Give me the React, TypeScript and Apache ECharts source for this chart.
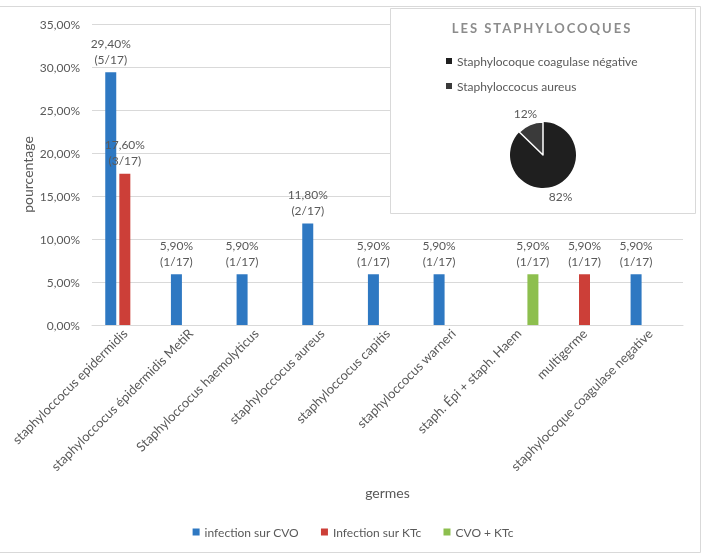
import React, { useEffect, useRef } from "react";
import * as echarts from "echarts";

const categories = [
  "staphyloccocus epidermidis",
  "staphyloccocus épidermidis MetiR",
  "Staphyloccocus haemolyticus",
  "staphyloccocus aureus",
  "staphyloccocus capitis",
  "staphyloccocus warneri",
  "staph. Épi + staph. Haem",
  "multigerme",
  "staphylocoque coagulase negative",
];
const seriesNames = ["infection sur CVO", "Infection sur KTc", "CVO + KTc"];
const cvoValues = [29.4, 5.9, 5.9, 11.8, 5.9, 5.9, null, null, 5.9];
const ktcValues = [17.6, null, null, null, null, null, null, 5.9, null];
const bothValues = [null, null, null, null, null, null, 5.9, null, null];
const cvoCounts = [5, 1, 1, 2, 1, 1, null, null, 1];
const ktcCounts = [3, null, null, null, null, null, null, 1, null];
const bothCounts = [null, null, null, null, null, null, 1, null, null];
const total = 17;
const yTicks = [0, 5, 10, 15, 20, 25, 30, 35];

const pieNames = ["Staphylocoque coagulase négative", "Staphyloccocus aureus"];
const pieValues = [82, 12];

const colors = ["#2E78C2", "#CC3F38", "#8DBF4E"];
const TEXT = "#595959";
const FONT = "Lato";

function fmtPct(v: number) {
  return v.toFixed(2).replace(".", ",") + "%";
}

export default function App() {
  const ref = useRef<HTMLDivElement>(null);
  useEffect(() => {
    if (!ref.current) return;
    const chart = echarts.init(ref.current, null, { renderer: "svg" });
    const counts = [cvoCounts, ktcCounts, bothCounts];
    const values = [cvoValues, ktcValues, bothValues];
    const barSeries = values.map((vals, si) => ({
      name: seriesNames[si],
      type: "bar",
      data: vals,
      barWidth: 11,
      barGap: "28%",
      itemStyle: { color: colors[si] },
      z: 3,
      label: {
        show: true,
        position: "top",
        distance: 5,
        color: TEXT,
        fontSize: 12,
        fontFamily: FONT,
        lineHeight: 16,
        formatter: (p: any) =>
          p.value == null ? "" : fmtPct(p.value) + "\n(" + counts[si][p.dataIndex] + "/" + total + ")",
      },
    }));

    const pieCenter = [543, 155];
    const pieRadius = 33;
    const pieLabelR = 45;
    const pieSum = pieValues.reduce((a, b) => a + b, 0);
    const midAngles: number[] = [];
    let acc = 0;
    pieValues.forEach((v) => {
      midAngles.push(((acc + v / 2) / pieSum) * 2 * Math.PI);
      acc += v;
    });

    chart.setOption({
      animation: false,
      textStyle: { fontFamily: FONT },
      grid: { left: 92, right: 23, top: 24, bottom: 229, containLabel: false },
      legend: [
        {
          data: seriesNames,
          bottom: 11,
          left: "center",
          icon: "rect",
          itemWidth: 7,
          itemHeight: 7,
          itemGap: 22,
          textStyle: { color: TEXT, fontSize: 12, fontFamily: FONT },
        },
        {
          data: pieNames,
          orient: "vertical",
          left: 441,
          top: 50,
          icon: "rect",
          itemWidth: 6,
          itemHeight: 6,
          itemGap: 13,
          z: 10,
          itemStyle: { borderWidth: 0 },
          textStyle: { color: TEXT, fontSize: 12, fontFamily: FONT },
          selectedMode: false,
        },
      ],
      xAxis: {
        type: "category",
        data: categories,
        name: "germes",
        nameLocation: "middle",
        nameGap: 160,
        nameMoveOverlap: false,
        nameTextStyle: { color: TEXT, fontSize: 14, fontFamily: FONT },
        axisLine: { lineStyle: { color: "#d9d9d9" } },
        axisTick: { show: false },
        axisLabel: { rotate: 45, interval: 0, color: TEXT, fontSize: 13, fontFamily: FONT, margin: 6 },
      },
      yAxis: {
        type: "value",
        min: yTicks[0],
        max: yTicks[yTicks.length - 1],
        interval: 5,
        name: "pourcentage",
        nameLocation: "middle",
        nameGap: 58,
        nameMoveOverlap: false,
        nameTextStyle: { color: TEXT, fontSize: 14, fontFamily: FONT },
        axisLabel: { color: TEXT, fontSize: 12, fontFamily: FONT, margin: 12, formatter: (v: number) => fmtPct(v) },
        splitLine: { lineStyle: { color: "#d9d9d9" } },
        axisLine: { show: false },
        axisTick: { show: false },
      },
      graphic: [
        {
          type: "polyline",
          shape: { points: [[0, 6.5], [700.5, 6.5], [700.5, 552.5], [0, 552.5]] },
          style: { stroke: "#d9d9d9", fill: null, lineWidth: 1 },
          silent: true,
        },
        {
          type: "rect",
          z: 5,
          shape: { x: 390.5, y: 8.5, width: 305, height: 205 },
          style: { fill: "#ffffff", stroke: "#d9d9d9", lineWidth: 1 },
          silent: true,
        },
        {
          type: "text",
          z: 6,
          x: 542,
          y: 28,
          style: {
            text: "LES STAPHYLOCOQUES",
            fill: "#8c8c8c",
            font: "bold 13px Lato",
            align: "center",
            verticalAlign: "middle",
          },
          silent: true,
        },
      ],
      series: [
        ...barSeries,
        {
          type: "pie",
          z: 8,
          center: pieCenter,
          radius: pieRadius,
          startAngle: 90,
          clockwise: true,
          data: pieNames.map((n, i) => ({
            name: n,
            value: pieValues[i],
            itemStyle: {
              color: i === 0 ? "#1f1f1f" : "#3a3a3a",
              borderColor: "#ffffff",
              borderWidth: i === 0 ? 0 : 1.5,
            },
          })),
          label: {
            show: true,
            position: "outside",
            formatter: "{c}%",
            color: TEXT,
            fontSize: 12,
            fontFamily: FONT,
          },
          labelLine: { show: false, length: 4, length2: 0 },
          labelLayout: (p: any) => {
            const a = midAngles[p.dataIndex];
            return {
              x: pieCenter[0] + Math.sin(a) * pieLabelR,
              y: pieCenter[1] - Math.cos(a) * pieLabelR,
              align: "center",
              verticalAlign: "middle",
            };
          },
        },
      ],
    });
    const svg = ref.current.querySelector("svg");
    if (svg) {
      svg.querySelectorAll("text").forEach((t) => {
        if (t.textContent === "LES STAPHYLOCOQUES") t.setAttribute("letter-spacing", "2");
      });
    }
    return () => chart.dispose();
  }, []);
  return <div ref={ref} style={{ position: "fixed", left: 0, top: 0, width: 706, height: 554 }} />;
}
